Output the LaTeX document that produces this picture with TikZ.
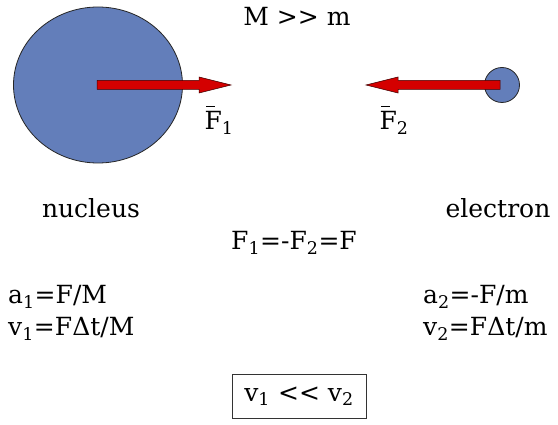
\documentclass[tikz,border=0pt]{standalone}
\usepackage{fontspec}
\setmainfont{DejaVu Serif}
\usetikzlibrary{arrows.meta,shapes.geometric}
\definecolor{ballblue}{RGB}{99,126,186}
\definecolor{arrowred}{RGB}{212,0,0}
\newcommand{\gtgt}{\mbox{>}\mbox{>}}
\newcommand{\ltlt}{\mbox{<}\mbox{<}}
\newcommand{\barF}{\makebox[0pt][l]{\hspace{0.06em}\raisebox{0.92em}{\rule{0.34em}{1.3pt}}}F}
\tikzset{
  ball/.style={draw=black!85, line width=0.8pt, fill=ballblue},
  force/.style={draw=black!70!arrowred, fill=arrowred, line width=0.5pt},
  lbl/.style={inner sep=0pt, font=\fontsize{25}{28}\selectfont},
}
\begin{document}
\begin{tikzpicture}[x=1pt,y=-1pt]
\useasboundingbox (0,0) rectangle (558,425);
% nucleus
\node[ball, ellipse, minimum width=169pt, minimum height=156pt, inner sep=0pt] (nuc) at (98,85) {};
\node[ball, circle, minimum size=35pt, inner sep=0pt] (ele) at (502,85) {};
% arrows
\coordinate (t1) at (231,85);
\coordinate (t2) at (366,85);
\filldraw[force] (nuc.center) ++(-1,-4.5) -- (199,80.5) -- (199,77) -- (t1) -- (199,93) -- (199,89.5) -- (97,89.5) -- cycle;
\filldraw[force] (ele.center) ++(-2,-4.5) -- (398,80.5) -- (398,77) -- (t2) -- (398,93) -- (398,89.5) -- (500,89.5) -- cycle;
% labels
\node[lbl] (mm) at (297,16) {M \gtgt{} m};
\node[lbl] (f1) at (219,120) {\barF\textsubscript{1}};
\node[lbl] (f2) at (394,120) {\barF\textsubscript{2}};
\node[lbl] (nl) at (91,208) {nucleus};
\node[lbl] (el) at (498,208) {electron};
\node[lbl] (feq) at (294,243) {F\textsubscript{1}=-F\textsubscript{2}=F};
\node[lbl, anchor=west] (a1) at (8,297) {a\textsubscript{1}=F/M};
\node[lbl, anchor=west] (v1) at (8,329) {v\textsubscript{1}=FΔt/M};
\node[lbl, anchor=west] (a2) at (423,297) {a\textsubscript{2}=-F/m};
\node[lbl, anchor=west] (v2) at (423,329) {v\textsubscript{2}=FΔt/m};
\node[lbl, draw=black!80, line width=0.8pt, minimum width=134pt, minimum height=44pt] (cmp) at (299,396) {v\textsubscript{1} \ltlt{} v\textsubscript{2}};
\end{tikzpicture}
\end{document}
